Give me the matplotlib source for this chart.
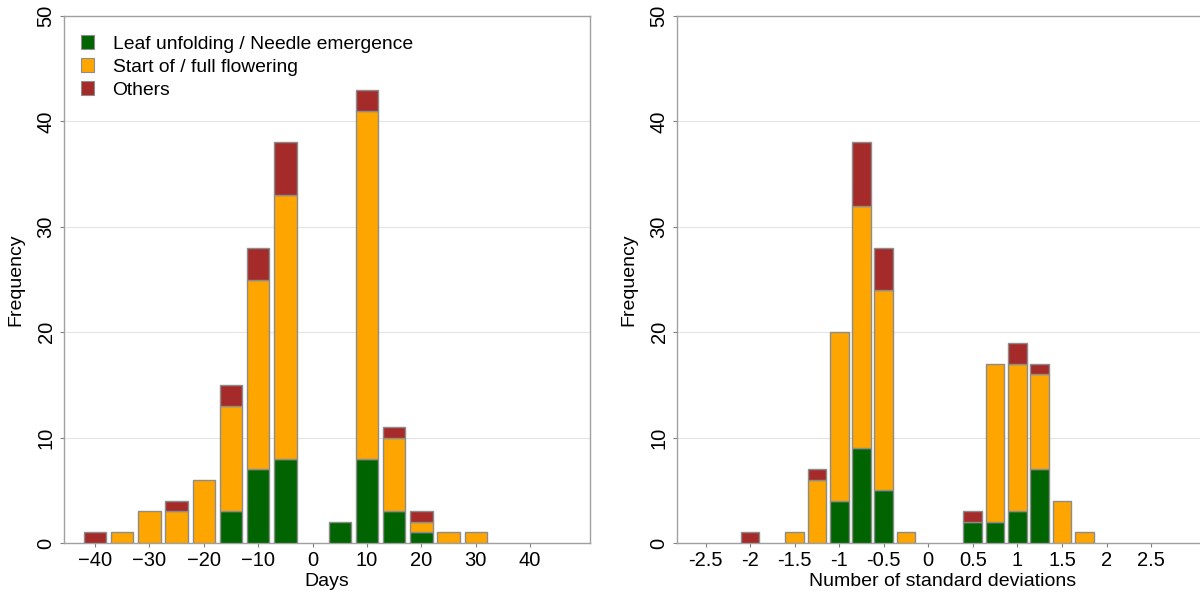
import numpy as np
import matplotlib as mpl
mpl.use('agg')
import matplotlib.pyplot as plt
from matplotlib.patches import Patch

plt.rcParams['font.family'] = ['Liberation Sans', 'DejaVu Sans']

## left panel: days, 5-day bins
days = [-40, -35, -30, -25, -20, -15, -10, -5, 0, 5, 10, 15, 20, 25, 30]
days_leaf = [0, 0, 0, 0, 0, 3, 7, 8, 0, 2, 8, 3, 1, 0, 0]
days_flower = [0, 1, 3, 3, 6, 10, 18, 25, 0, 0, 33, 7, 1, 1, 1]
days_other = [1, 0, 0, 1, 0, 2, 3, 5, 0, 0, 2, 1, 1, 0, 0]
days_ticks = [-40, -30, -20, -10, 0, 10, 20, 30, 40]

## right panel: standard deviations, 0.25 bins
sd = [-2, -1.5, -1.25, -1, -0.75, -0.5, -0.25, 0.5, 0.75, 1, 1.25, 1.5, 1.75]
sd_leaf = [0, 0, 0, 4, 9, 5, 0, 2, 2, 3, 7, 0, 0]
sd_flower = [0, 1, 6, 16, 23, 19, 1, 0, 15, 14, 9, 4, 1]
sd_other = [1, 0, 1, 0, 6, 4, 0, 1, 0, 2, 1, 0, 0]
sd_ticks = [-2.5, -2, -1.5, -1, -0.5, 0, 0.5, 1, 1.5, 2, 2.5]
sd_ticklabels = ['-2.5', '-2', '-1.5', '-1', '-0.5', '0', '0.5', '1', '1.5', '2', '2.5']

labels = ['Leaf unfolding / Needle emergence', 'Start of / full flowering', 'Others']
colors = ['#006400', '#FFA500', '#A52A2A']
edge = '#8c8c8c'


def drawStacked(ax, x, leaf, flower, other, width):
    x = np.array(x)
    leaf = np.array(leaf)
    flower = np.array(flower)
    other = np.array(other)
    # only draw segments that have counts
    for vals, bottom, col in [(leaf, 0 * leaf, colors[0]),
                              (flower, leaf, colors[1]),
                              (other, leaf + flower, colors[2])]:
        m = vals > 0
        ax.bar(x[m], vals[m], width=width, bottom=bottom[m], color=col,
               edgecolor=edge, linewidth=1, zorder=3)

    ax.set_ylim(0, 50)
    ax.set_yticks([0, 10, 20, 30, 40, 50])
    for t in ax.get_yticklabels():
        t.set_rotation(90)
        t.set_va('center')
    ax.yaxis.grid(True, color='#e4e4e4', linewidth=0.8, zorder=0)
    ax.set_axisbelow(True)
    for s in ax.spines.values():
        s.set_color('#a0a0a0')
        s.set_linewidth(1)
    ax.tick_params(axis='both', labelsize=14.5, length=3, width=0.8,
                   color='#808080', pad=3)
    ax.set_ylabel('Frequency', fontsize=14, labelpad=9)


fig = plt.figure(figsize=(12, 5.97), dpi=100)
ax1 = fig.add_axes([64 / 1200, 54 / 597, 526 / 1200, 527 / 597])
ax2 = fig.add_axes([677 / 1200, 54 / 597, 532 / 1200, 527 / 597])

drawStacked(ax1, days, days_leaf, days_flower, days_other, 4.1)
ax1.set_xlim(-45.7, 51)
ax1.set_xticks(days_ticks)
ax1.set_xlabel('Days', fontsize=14, labelpad=2)

handles = [Patch(facecolor=c, edgecolor='#8c8c8c', linewidth=0.8) for c in colors]
ax1.legend(handles, labels, loc='upper left', frameon=False, fontsize=13.9,
           handlelength=0.7, handleheight=0.7, handletextpad=0.95,
           labelspacing=0.28, borderaxespad=0.6, bbox_to_anchor=(-0.005, 1.0))

drawStacked(ax2, sd, sd_leaf, sd_flower, sd_other, 0.21)
ax2.set_xlim(-2.82, 3.15)
ax2.set_xticks(sd_ticks)
ax2.set_xticklabels(sd_ticklabels)
ax2.set_xlabel('Number of standard deviations', fontsize=14, labelpad=2)

fig.savefig('out.png', dpi=100)
